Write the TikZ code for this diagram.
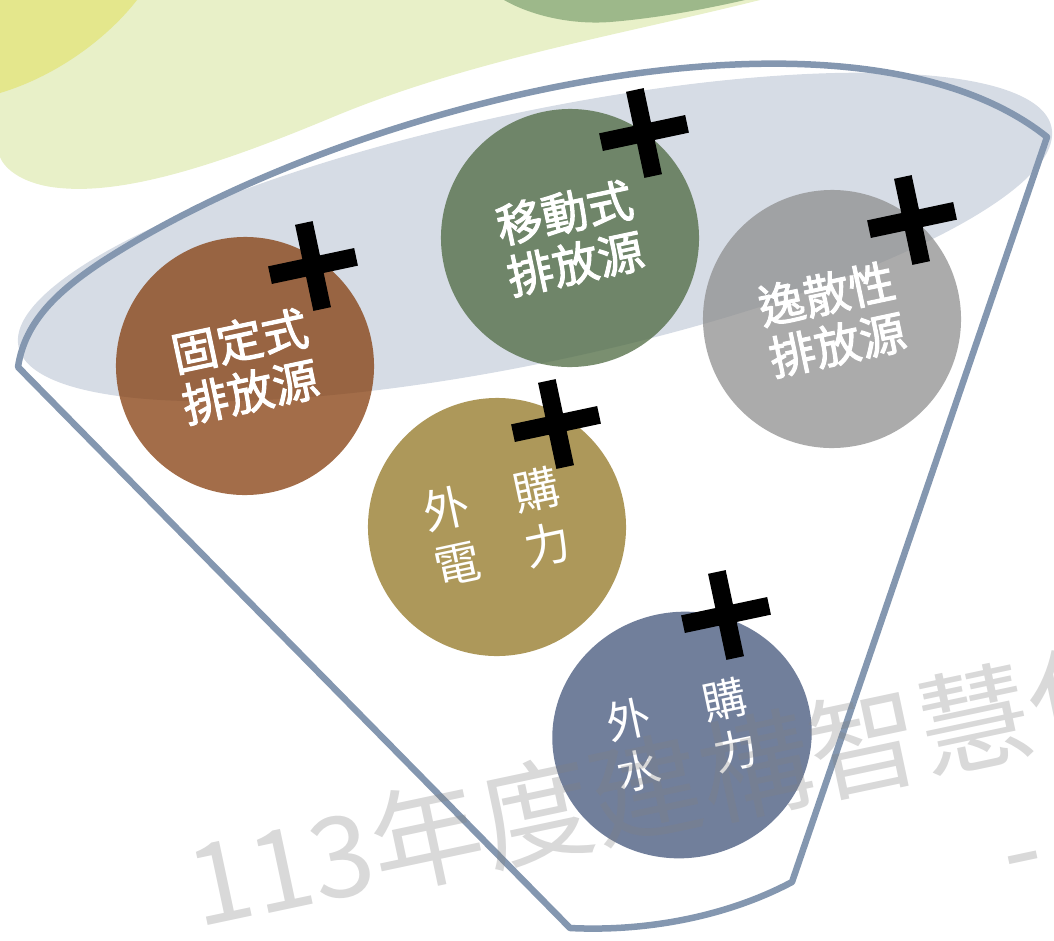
\documentclass[tikz,border=0pt]{standalone}
\usepackage{fontspec}
\usepackage{tikz}
\usetikzlibrary{shapes.geometric}
\newfontfamily\cjk{Noto Sans CJK TC}
\newfontfamily\cjkheavy[FakeBold=2.2]{Noto Sans CJK TC}

\definecolor{rimline}{HTML}{8497B0}
\definecolor{rimfill}{HTML}{D6DCE5}
\definecolor{blobpale}{RGB}{232,240,200}
\definecolor{blobyellow}{RGB}{228,231,140}
\definecolor{blobgreen}{RGB}{157,184,138}
\definecolor{fixedc}{RGB}{132,60,12}
\definecolor{mobilec}{RGB}{77,105,64}
\definecolor{fugitivec}{RGB}{143,143,143}
\definecolor{powerc}{RGB}{146,118,35}
\definecolor{waterc}{RGB}{66,84,122}

\begin{document}
\begin{tikzpicture}[x=1pt,y=-1pt,
  srccircle/.style={circle,minimum size=258pt,inner sep=0pt,fill=#1,fill opacity=0.75,
    text opacity=1,text=white,rotate=12,align=center},
  srctext/.style={font=\cjkheavy\fontsize{46}{52}\selectfont},
  buytext/.style={font=\cjk\fontsize{46}{56}\selectfont},
  plusbar/.style={line width=18pt},
  watermark/.style={font=\cjk\fontsize{112}{120}\selectfont,text=black!50,text opacity=0.3,
    rotate=12,inner sep=0pt,anchor=base west}]
\useasboundingbox (0,0) rectangle (1054,940);
\clip (0,0) rectangle (1054,940);

% background blobs
\fill[blobpale] (0,0) -- (760,0) .. controls (620,35) and (470,60) .. (333,117)
  .. controls (230,160) and (130,195) .. (60,188) .. controls (25,185) and (5,170) .. (0,157) -- cycle;
\fill[blobyellow] (0,0) -- (137,0) .. controls (110,35) and (60,75) .. (0,93) -- cycle;
\fill[blobgreen] (504,0) .. controls (530,15) and (570,25) .. (610,22)
  .. controls (660,18) and (710,8) .. (745,0) -- cycle;

% rim of the funnel
\fill[rimfill,rotate around={12:(535,237)}] (535,237) ellipse [x radius=528,y radius=125];

\node[srccircle=fixedc,srctext] (fixed) at (245,366) {固定式\\排放源};
\node[srccircle=mobilec,srctext] (mobile) at (570,238) {移動式\\排放源};
\node[srccircle=fugitivec,srctext] (fugitive) at (832,319) {逸散性\\排放源};
\node[srccircle=powerc,buytext] (power) at (497,527) {外　購\\電　力};
\node[srccircle=waterc,buytext,ellipse,minimum width=260pt,minimum height=246pt,
  font=\cjk\fontsize{44}{52}\selectfont] (water) at (682,735) {外\hspace{55pt}購\\水\hspace{55pt}力};

\foreach \px/\py in {313/266,644/133,912/220,556/424,726/615}
  \draw[plusbar,shift={(\px,\py)},rotate=12] (-44,0) -- (44,0) (0,-44) -- (0,44);

\coordinate (rimL) at (18,367);
\coordinate (rimR) at (1047,137);
\coordinate (baseR) at (792,882);
\coordinate (baseL) at (570,928);
\draw[rimline,line width=6.5pt,line join=round] (rimL) .. controls (25,320) and (60,290) .. (100,263)
  .. controls (350,100) and (850,-20) .. (rimR) -- (baseR)
  .. controls (730,915) and (650,932) .. (baseL) -- cycle;

\node[watermark] (wm) at (198,928) {113年度建構智慧化};
\node[watermark] (wm2) at (1010,893) {- 1};
\end{tikzpicture}
\end{document}
